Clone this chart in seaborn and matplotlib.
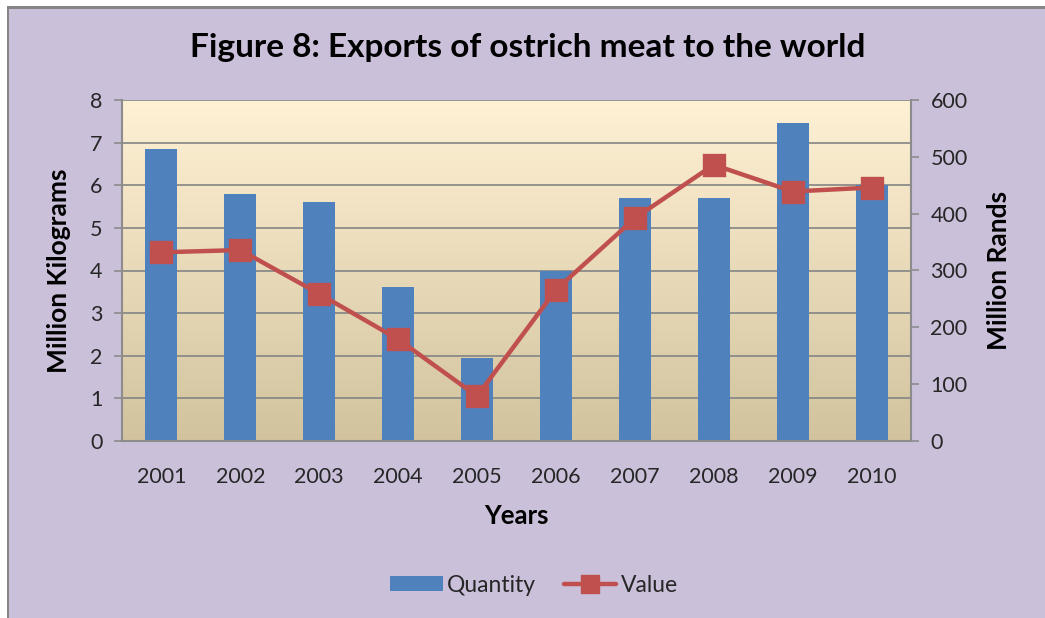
import numpy as np
import pandas as pd
import matplotlib
matplotlib.use("Agg")
import matplotlib.pyplot as plt
from matplotlib.patches import Rectangle, Patch
from matplotlib.lines import Line2D
import seaborn as sns

years = ["2001", "2002", "2003", "2004", "2005", "2006", "2007", "2008", "2009", "2010"]
quantity = [6.85, 5.79, 5.60, 3.61, 1.95, 3.98, 5.69, 5.69, 7.45, 6.0]
value = [332, 336, 259, 179, 79, 266, 392, 486, 439, 446]
left_ticks = [0, 1, 2, 3, 4, 5, 6, 7, 8]
right_ticks = [0, 100, 200, 300, 400, 500, 600]

sns.set_theme(style="white")
plt.rcParams['font.family'] = ['Lato', 'DejaVu Sans']

W, H = 1045, 618
fig = plt.figure(figsize=(W / 100, H / 100), dpi=100)
fig.patch.set_facecolor("white")
fig.add_artist(Rectangle((7 / W, 0), 1, 1 - 6 / H, transform=fig.transFigure,
                         facecolor="#858585", edgecolor="none", zorder=-10))
fig.add_artist(Rectangle((9 / W, 0), 1, 1 - 9 / H, transform=fig.transFigure,
                         facecolor="#CAC0DA", edgecolor="none", zorder=-9))

ax = fig.add_axes([122 / W, 1 - 441 / H, (911 - 122) / W, (441 - 100) / H])
ax.set_facecolor("none")

df = pd.DataFrame({"Year": years, "Quantity": quantity, "Value": value})

top = np.array([255, 241, 212]) / 255
bot = np.array([210, 195, 158]) / 255
t = np.linspace(0, 1, 256)[:, None]
grad = (top[None, :] * (1 - t) + bot[None, :] * t)[:, None, :]
ax.imshow(grad, extent=[-0.5, 9.5, 0, 8], aspect="auto", zorder=-5, origin="upper")

sns.barplot(data=df, x="Year", y="Quantity", color="#4F81BD", saturation=1,
            width=0.405, ax=ax, zorder=2, linewidth=0, edgecolor="none")
ax.set_xlim(-0.5, 9.5)
ax.set_ylim(0, 8)
ax.set_yticks(left_ticks)
for yv in left_ticks[1:]:
    ax.axhline(yv, color="#848484", lw=1.2, zorder=1)

ax2 = ax.twinx()
sns.pointplot(data=df, x="Year", y="Value", color="#C0504D", markers="s",
              markersize=14, linewidth=3.2, ax=ax2)
ax2.set_ylim(0, 600)
ax2.set_xlim(-0.5, 9.5)
ax2.set_yticks(right_ticks)

for a in (ax, ax2):
    for s in a.spines.values():
        s.set_visible(False)
ax.spines["left"].set_visible(True)
ax.spines["bottom"].set_visible(True)
ax2.spines["right"].set_visible(True)
for s in (ax.spines["left"], ax.spines["bottom"], ax2.spines["right"]):
    s.set_color("#8C8C8C")
    s.set_linewidth(1.5)

ax.tick_params(axis="y", which="both", left=True, length=6, width=1.2, color="#8C8C8C",
               labelsize=15.5, labelcolor="#262626", pad=8)
ax.tick_params(axis="x", bottom=False, labelsize=15.5, labelcolor="#262626", pad=13)
ax2.tick_params(axis="y", right=True, length=6, width=1.2, color="#8C8C8C",
                labelsize=15.5, labelcolor="#262626", pad=8)

ax.set_xlabel("Years", fontsize=18.5, fontweight="bold", labelpad=12, color="black")
ax.set_ylabel("Million Kilograms", fontsize=19, fontweight="bold", labelpad=14, color="black")
ax2.set_ylabel("Million Rands", fontsize=19, fontweight="bold", labelpad=14, color="black")

fig.text(528 / W, 1 - 48 / H, "Figure 8: Exports of ostrich meat to the world",
         ha="center", va="center", fontsize=24, fontweight="bold", color="black")

handles = [Patch(facecolor="#4F81BD", edgecolor="none", label="Quantity"),
           Line2D([0], [0], color="#C0504D", lw=3.2, marker="s", markersize=13,
                  label="Value")]
fig.legend(handles=handles, loc="center", bbox_to_anchor=(534 / W, 1 - 585 / H),
           ncol=2, frameon=False, fontsize=16.5, handlelength=2.3, handleheight=0.6,
           columnspacing=1.2, handletextpad=0.2, labelcolor="#262626")

fig.savefig("out.png", dpi=100, facecolor=fig.get_facecolor())
